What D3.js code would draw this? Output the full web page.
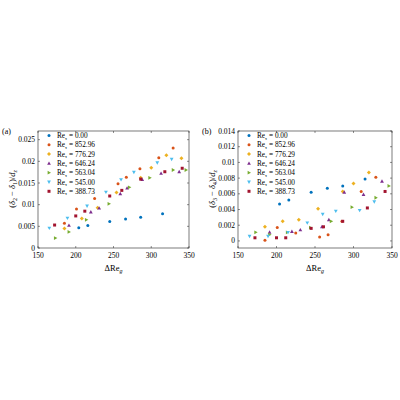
<!DOCTYPE html>
<html><head><meta charset="utf-8">
<script src="https://cdn.jsdelivr.net/npm/d3@7"></script>
<style>body{margin:0;background:#fff}text{font-family:"Liberation Serif","DejaVu Serif",serif}</style>
</head><body><svg id="c" width="400" height="400"></svg>
<script>
const names = ["0.00","852.96","776.29","646.24","563.04","545.00","388.73"]
const colors = ["#0072BD","#D95319","#EDB120","#7E2F8E","#77AC30","#4DBEEE","#A2142F"]
const symbols = ["circle","circle","diamond","up","right","down","square"]
const xs = [
  [204,216,245,266,286,315],
  [185,201,225,256,267,285,310,329],
  [185,208,229,254,286,300,320,340],
  [191,220,231,259,268,288,313,337],
  [173,191,214,244,271,298,329,346],
  [165,189,215,240,260,277,308,327],
  [172,200,212,245,261,286,318,341]
]
const ya = [
  [0.0047,0.0052,0.0061,0.0067,0.0071,0.0079],
  [0.0057,0.0090,0.0114,0.0148,0.0163,0.0183,0.0208,0.0231],
  [0.0045,0.0068,0.0093,0.0128,0.0162,0.0185,0.0214,0.0207],
  [0.0052,0.0083,0.0092,0.0125,0.0138,0.0158,0.0172,0.0176],
  [0.0023,0.0037,0.0065,0.0102,0.0140,0.0162,0.0180,0.0180],
  [0.0046,0.0069,0.0097,0.0129,0.0158,0.0175,0.0197,0.0205],
  [0.0053,0.0074,0.0085,0.0120,0.0133,0.0159,0.0176,0.0184]
]
const yb = [
  [0.0047,0.0052,0.0062,0.0067,0.0070,0.0079],
  [0.0001,0.0017,0.0010,0.0005,0.0008,0.0025,0.0063,0.0081],
  [0.0018,0.0025,0.0027,0.0041,0.0063,0.0073,0.0087,null],
  [0.0011,0.0012,0.0014,0.0018,0.0027,0.0062,0.0059,0.0076],
  [0.0011,0.0008,0.0011,0.0017,0.0025,0.0043,0.0055,0.0070],
  [0.0006,0.0006,0.0011,0.0023,0.0034,0.0038,0.0039,0.0050],
  [0.0004,0.0004,0.0004,0.0016,0.0018,0.0025,0.0042,0.0063]
]
const yTicksA = [0,0.005,0.01,0.015,0.02,0.025]
const yTicksB = [0,0.002,0.004,0.006,0.008,0.01,0.012,0.014]
const xTicks = [150,200,250,300,350]

const svg = d3.select('#c')

function marker(g, sym, x, y, col){
  let s = 1.5, p
  if (sym=="circle") { g.append('circle').attr('cx',x).attr('cy',y).attr('r',1.5).attr('fill',col); return }
  if (sym=="square") p = [[-s,-s],[s,-s],[s,s],[-s,s]]
  if (sym=="diamond") p = [[0,-2],[2,0],[0,2],[-2,0]]
  if (sym=="up") p = [[0,-2],[1.9,1.4],[-1.9,1.4]]
  if (sym=="down") p = [[0,2],[1.9,-1.4],[-1.9,-1.4]]
  if (sym=="right") p = [[2,0],[-1.4,-1.9],[-1.4,1.9]]
  g.append('polygon').attr('points', p.map(d => (x+d[0])+','+(y+d[1])).join(' ')).attr('fill',col)
}

function panel(left, right, ydom, yticks, ydata, tag, sub, fmtLabel){
  const x = d3.scaleLinear().domain([150,350]).range([left,right])
  const y = d3.scaleLinear().domain(ydom).range([248,131])
  const g = svg.append('g')
  g.append('rect').attr('x',left).attr('y',131).attr('width',right-left).attr('height',117)
    .attr('fill','none').attr('stroke','#222').attr('stroke-width',0.6)
  xTicks.forEach(t => {
    g.append('line').attr('x1',x(t)).attr('x2',x(t)).attr('y1',248).attr('y2',246).attr('stroke','#222').attr('stroke-width',0.5)
    g.append('line').attr('x1',x(t)).attr('x2',x(t)).attr('y1',131).attr('y2',133).attr('stroke','#222').attr('stroke-width',0.5)
    g.append('text').attr('x',x(t)).attr('y',258).attr('text-anchor','middle').attr('font-size',7.5).text(t)
  })
  yticks.forEach(t => {
    g.append('line').attr('x1',left).attr('x2',left+2).attr('y1',y(t)).attr('y2',y(t)).attr('stroke','#222').attr('stroke-width',0.5)
    g.append('line').attr('x1',right).attr('x2',right-2).attr('y1',y(t)).attr('y2',y(t)).attr('stroke','#222').attr('stroke-width',0.5)
    g.append('text').attr('x',left-3).attr('y',y(t)+2.5).attr('text-anchor','end').attr('font-size',7.5).text(fmtLabel(t))
  })
  g.append('text').attr('x',(left+right)/2).attr('y',271).attr('text-anchor','middle').attr('font-size',8.5)
    .html('ΔRe<tspan font-size="6" dy="2" font-style="italic">g</tspan>')
  g.append('text').attr('transform',`translate(${left-23},189) rotate(-90)`).attr('text-anchor','middle').attr('font-size',8.5)
    .html(`(<tspan font-style="italic">δ</tspan><tspan font-size="6" dy="2">${sub[0]}</tspan><tspan dy="-2"> − </tspan><tspan font-style="italic">δ</tspan><tspan font-size="6" dy="2">${sub[1]}</tspan><tspan dy="-2">)/</tspan><tspan font-style="italic">d</tspan><tspan font-size="6" dy="2" font-style="italic">z</tspan>`)
  g.append('text').attr('x',left-36).attr('y',134).attr('font-size',8).text(tag)
  ydata.forEach((ser,i) => ser.forEach((v,j) => { if (v!=null) marker(g, symbols[i], x(xs[i][j]), y(v), colors[i]) }))
  names.forEach((n,i) => {
    const ly = 135.5 + i*9.3
    marker(g, symbols[i], left+11, ly, colors[i])
    g.append('text').attr('x',left+19).attr('y',ly+2.5).attr('font-size',7.3)
      .html(`Re<tspan font-size="5" dy="1.5">τ</tspan><tspan dy="-1.5"> = ${n}</tspan>`)
  })
}

panel(38,189,[0,0.027],yTicksA,ya,'(a)',['2','1'], t => t==0?'0':String(+t.toFixed(3)))
panel(238,392,[-0.0009,0.014],yTicksB,yb,'(b)',['3','4'], t => t==0?'0':String(+t.toFixed(3)))
</script></body></html>
